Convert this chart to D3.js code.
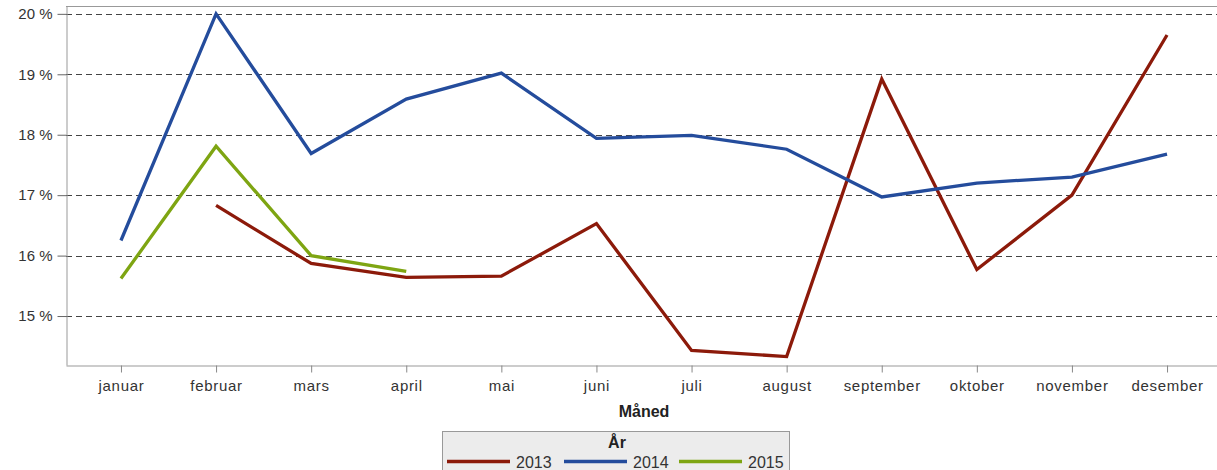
<!DOCTYPE html>
<html>
<head>
<meta charset="utf-8">
<script src="https://cdn.jsdelivr.net/npm/d3@7"></script>
<style>
  body { margin: 0; background: #fff; }
  text { font-family: "Liberation Sans", Arial, sans-serif; }
</style>
</head>
<body>
<div id="chart"></div>
<script>
// ---- données ----
const months = ["januar", "februar", "mars", "april", "mai", "juni", "juli", "august", "september", "oktober", "november", "desember"];
const v2013 = [null, 16.83, 15.87, 15.64, 15.66, 16.53, 14.43, 14.33, 18.92, 15.77, 17.0, 19.65];
const v2014 = [16.25, 20.0, 17.69, 18.59, 19.02, 17.94, 17.99, 17.76, 16.97, 17.2, 17.3, 17.68];
const v2015 = [15.62, 17.81, 16.0, 15.74];
const yTicks = [15, 16, 17, 18, 19, 20];
const years = ["2013", "2014", "2015"];
const colors = ["#8c1a0a", "#244c9c", "#7ea512"];

const width = 1217, height = 470;
const plotLeft = 66, plotRight = 1222, plotTop = 6, plotBottom = 365;

const svg = d3.select("#chart").append("svg")
  .attr("width", width)
  .attr("height", height);

const x = d3.scalePoint().domain(months).range([plotLeft, plotRight]).padding(0.578);
const y = d3.scaleLinear().domain([14.19, 20.13]).range([plotBottom, plotTop]);

// grille pointillée
svg.append("g").selectAll("line")
  .data(yTicks).enter().append("line")
  .attr("x1", plotLeft).attr("x2", width)
  .attr("y1", d => Math.round(y(d)) + 0.5).attr("y2", d => Math.round(y(d)) + 0.5)
  .attr("stroke", "#444").attr("stroke-dasharray", "6,4");

// cadre
svg.append("line").attr("x1", plotLeft).attr("x2", width).attr("y1", plotTop + 0.5).attr("y2", plotTop + 0.5).attr("stroke", "#999");

// axe y
const yAxis = svg.append("g")
  .attr("transform", `translate(${plotLeft + 0.5},0)`)
  .call(d3.axisLeft(y).tickValues(yTicks).tickSize(9).tickSizeOuter(0).tickPadding(5).tickFormat(d => d + " %"));
yAxis.select(".domain").attr("stroke", "#999");
yAxis.selectAll(".tick line").attr("stroke", "#666");
yAxis.selectAll("text").attr("font-size", 15).attr("fill", "#333").attr("font-family", "Liberation Sans, Arial, sans-serif");

// axe x
const xAxis = svg.append("g")
  .attr("transform", `translate(0,${plotBottom + 0.5})`)
  .call(d3.axisBottom(x).tickSize(7).tickSizeOuter(0).tickPadding(8));
xAxis.select(".domain").attr("stroke", "#999");
xAxis.selectAll(".tick line").attr("stroke", "#888");
xAxis.selectAll("text").attr("font-size", 15).attr("fill", "#333").attr("font-family", "Liberation Sans, Arial, sans-serif").attr("letter-spacing", "0.7px");

svg.append("text")
  .attr("x", (plotLeft + plotRight) / 2).attr("y", 417)
  .attr("text-anchor", "middle").attr("font-size", 16).attr("font-weight", "bold").attr("fill", "#222")
  .text("Måned");

// lignes
const line = d3.line()
  .defined(d => d.v != null)
  .x(d => x(d.m))
  .y(d => y(d.v));

[v2013, v2014, v2015].forEach((vals, i) => {
  const pts = vals.map((v, j) => ({ m: months[j], v: v }));
  svg.append("path")
    .datum(pts)
    .attr("d", line)
    .attr("fill", "none")
    .attr("stroke", colors[i])
    .attr("stroke-width", 3.3)
    .attr("stroke-linejoin", "miter");
});

// légende
const legend = svg.append("g");
legend.append("rect")
  .attr("x", 442.5).attr("y", 431.5).attr("width", 347).attr("height", 50)
  .attr("fill", "#ececec").attr("stroke", "#999");
legend.append("text")
  .attr("x", 617).attr("y", 448).attr("text-anchor", "middle")
  .attr("font-size", 16).attr("font-weight", "bold").attr("fill", "#222")
  .text("År");

const itemX = [447, 564, 679];
years.forEach((yr, i) => {
  legend.append("line")
    .attr("x1", itemX[i]).attr("x2", itemX[i] + 63)
    .attr("y1", 461.5).attr("y2", 461.5)
    .attr("stroke", colors[i]).attr("stroke-width", 3.3);
  legend.append("text")
    .attr("x", itemX[i] + 69).attr("y", 468)
    .attr("font-size", 16).attr("fill", "#333")
    .text(yr);
});
</script>
</body>
</html>
